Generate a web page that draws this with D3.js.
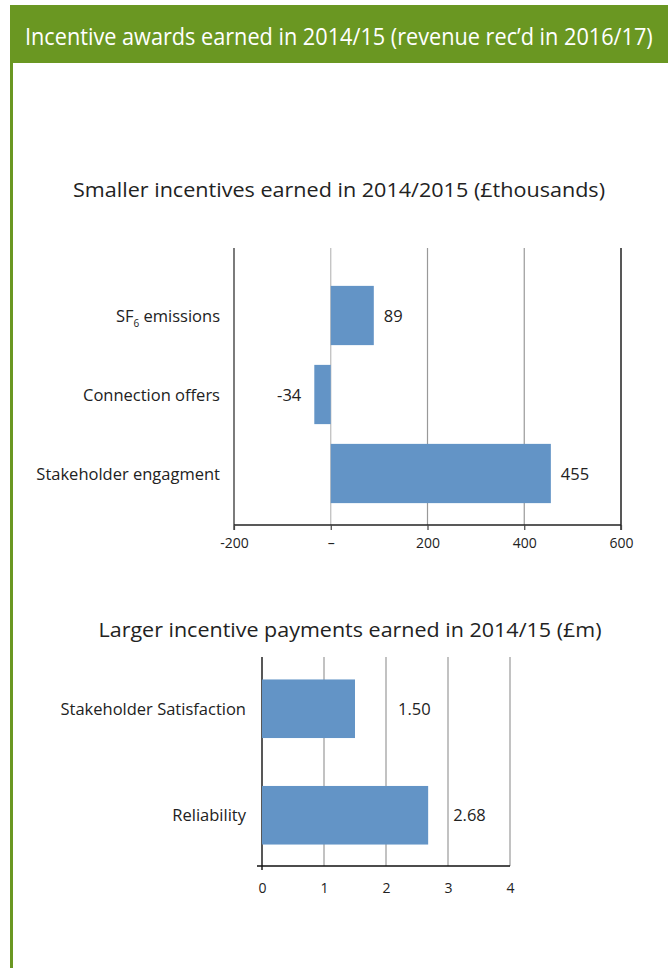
<!DOCTYPE html>
<html>
<head>
<meta charset="utf-8">
<script src="https://cdn.jsdelivr.net/npm/d3@7"></script>
<style>
  html, body { margin: 0; padding: 0; background: #fff; }
  svg { display: block; font-family: "Open Sans", "Noto Sans", sans-serif; }
</style>
</head>
<body>
<svg id="chart" width="668" height="968"></svg>
<script>
// Smaller incentives (£ thousands)
const smallCategories = ["SF6 emissions", "Connection offers", "Stakeholder engagment"];
const smallValues = [89, -34, 455];
const smallTicks = [-200, 0, 200, 400, 600];
const smallTickLabels = ["-200", "\u2013", "200", "400", "600"];

// Larger incentive payments (£ m)
const largeCategories = ["Stakeholder Satisfaction", "Reliability"];
const largeValues = [1.50, 2.68];
const largeTicks = [0, 1, 2, 3, 4];
const largeTickLabels = ["0", "1", "2", "3", "4"];

const headerText = "Incentive awards earned in 2014/15 (revenue rec\u2019d in 2016/17)";
const smallTitle = "Smaller incentives earned in 2014/2015 (\u00A3thousands)";
const largeTitle = "Larger incentive payments earned in 2014/15 (\u00A3m)";

const green = "#6a9722";
const barColor = "#6394c6";
const textColor = "#222";
const labelSize = 16.5;
const tickSize = 14;

const svg = d3.select("#chart");

// Header band and left rule
svg.append("rect").attr("x", 10).attr("y", 5).attr("width", 658).attr("height", 58).attr("fill", green);
svg.append("rect").attr("x", 10).attr("y", 63).attr("width", 3).attr("height", 905).attr("fill", green);
// Header title: condensed horizontally so it fits the band
const header = svg.append("text")
  .attr("x", 0).attr("y", 0)
  .attr("fill", "#fff")
  .attr("font-size", 23)
  .text(headerText);
const headerWidth = header.node().getComputedTextLength();
const headerScale = Math.min(1, 628 / headerWidth);
header.attr("transform", `translate(25,45) scale(${headerScale},1)`);

// ---------- Chart 1 ----------
const c1 = { left: 234, right: 621, top: 248, bottom: 525 };
const x1 = d3.scaleLinear().domain([-200, 600]).range([c1.left, c1.right]);
const y1 = d3.scaleBand().domain(smallCategories).range([276, 513]).paddingInner(0.25).paddingOuter(0.125);

svg.append("text")
  .attr("x", 339).attr("y", 197)
  .attr("text-anchor", "middle")
  .attr("fill", textColor).attr("font-size", 19.5)
  .attr("textLength", 532).attr("lengthAdjust", "spacingAndGlyphs")
  .text(smallTitle);

const g1 = svg.append("g");
// gridlines
g1.selectAll("line.grid").data(smallTicks.filter(t => t > -200 && t < 600)).join("line")
  .attr("class", "grid")
  .attr("x1", d => x1(d)).attr("x2", d => x1(d))
  .attr("y1", c1.top).attr("y2", c1.bottom)
  .attr("stroke", d => d === 0 ? "#bbb" : "#999").attr("stroke-width", 1.2);
// frame edges
[-200, 600].forEach(v => {
  g1.append("line")
    .attr("x1", x1(v)).attr("x2", x1(v))
    .attr("y1", c1.top).attr("y2", c1.bottom + 5)
    .attr("stroke", v === 600 ? "#111" : "#444").attr("stroke-width", 1.4);
});
// bars
g1.selectAll("rect.bar").data(smallValues).join("rect")
  .attr("class", "bar")
  .attr("x", d => x1(Math.min(0, d)))
  .attr("width", d => Math.abs(x1(d) - x1(0)))
  .attr("y", (d, i) => y1(smallCategories[i]))
  .attr("height", y1.bandwidth())
  .attr("fill", barColor);
// bottom axis
const ax1 = g1.append("g").attr("transform", `translate(0,${c1.bottom})`)
  .call(d3.axisBottom(x1).tickValues(smallTicks).tickSize(5).tickPadding(8)
    .tickFormat((d, i) => smallTickLabels[i]));
ax1.select(".domain").attr("stroke", "#222").attr("stroke-width", 1.4).attr("d", `M${c1.left},0H${c1.right}`);
ax1.selectAll(".tick line").attr("stroke", "#444").attr("stroke-width", 1.2);
ax1.selectAll(".tick text").attr("fill", textColor).attr("font-size", tickSize).attr("font-family", "'Open Sans', sans-serif");
// category labels
const cat1 = g1.selectAll("text.cat").data(smallCategories).join("text")
  .attr("class", "cat")
  .attr("x", 220)
  .attr("y", d => y1(d) + y1.bandwidth() / 2 + 6)
  .attr("text-anchor", "end")
  .attr("fill", textColor).attr("font-size", labelSize);
cat1.each(function(d) {
  const t = d3.select(this);
  if (d.startsWith("SF6")) {
    t.append("tspan").text("SF");
    t.append("tspan").attr("font-size", 10).attr("dy", 5).text("6");
    t.append("tspan").attr("dy", -5).text(" emissions");
  } else {
    t.text(d);
  }
});
// value labels
g1.selectAll("text.val").data(smallValues).join("text")
  .attr("class", "val")
  .attr("x", d => d >= 0 ? x1(d) + 10 : x1(d) - 13)
  .attr("y", (d, i) => y1(smallCategories[i]) + y1.bandwidth() / 2 + 6)
  .attr("text-anchor", d => d >= 0 ? "start" : "end")
  .attr("fill", textColor).attr("font-size", labelSize)
  .text(d => String(d));

// ---------- Chart 2 ----------
const c2 = { left: 262, right: 510, top: 657, bottom: 866 };
const x2 = d3.scaleLinear().domain([0, 4]).range([c2.left, c2.right]);
const y2 = d3.scaleBand().domain(largeCategories).range([655.5, 868.5]).paddingInner(0.45).paddingOuter(0.225);
const labelNudge2 = [43, 25];

svg.append("text")
  .attr("x", 350).attr("y", 637)
  .attr("text-anchor", "middle")
  .attr("fill", textColor).attr("font-size", 19.5)
  .attr("textLength", 503).attr("lengthAdjust", "spacingAndGlyphs")
  .text(largeTitle);

const g2 = svg.append("g");
g2.selectAll("line.grid").data(largeTicks.filter(t => t > 0)).join("line")
  .attr("class", "grid")
  .attr("x1", d => x2(d)).attr("x2", d => x2(d))
  .attr("y1", c2.top).attr("y2", c2.bottom)
  .attr("stroke", "#999").attr("stroke-width", 1.2);
g2.append("line")
  .attr("x1", x2(0)).attr("x2", x2(0))
  .attr("y1", c2.top).attr("y2", c2.bottom + 4)
  .attr("stroke", "#111").attr("stroke-width", 1.4);
g2.selectAll("rect.bar").data(largeValues).join("rect")
  .attr("class", "bar")
  .attr("x", x2(0))
  .attr("width", d => x2(d) - x2(0))
  .attr("y", (d, i) => y2(largeCategories[i]))
  .attr("height", y2.bandwidth())
  .attr("fill", barColor);
const ax2 = g2.append("g").attr("transform", `translate(0,${c2.bottom})`)
  .call(d3.axisBottom(x2).tickValues(largeTicks).tickSize(0).tickPadding(17)
    .tickFormat((d, i) => largeTickLabels[i]));
ax2.select(".domain").attr("stroke", "#111").attr("stroke-width", 1.4).attr("d", `M${c2.left - 5},0H${c2.right}`);
ax2.selectAll(".tick text").attr("fill", textColor).attr("font-size", tickSize).attr("font-family", "'Open Sans', sans-serif");
g2.selectAll("text.cat").data(largeCategories).join("text")
  .attr("class", "cat")
  .attr("x", 246)
  .attr("y", d => y2(d) + y2.bandwidth() / 2 + 6)
  .attr("text-anchor", "end")
  .attr("fill", textColor).attr("font-size", labelSize)
  .text(d => d);
g2.selectAll("text.val").data(largeValues).join("text")
  .attr("class", "val")
  .attr("x", (d, i) => x2(d) + labelNudge2[i])
  .attr("y", (d, i) => y2(largeCategories[i]) + y2.bandwidth() / 2 + 6)
  .attr("fill", textColor).attr("font-size", labelSize)
  .text(d => d3.format(".2f")(d));
</script>
</body>
</html>
